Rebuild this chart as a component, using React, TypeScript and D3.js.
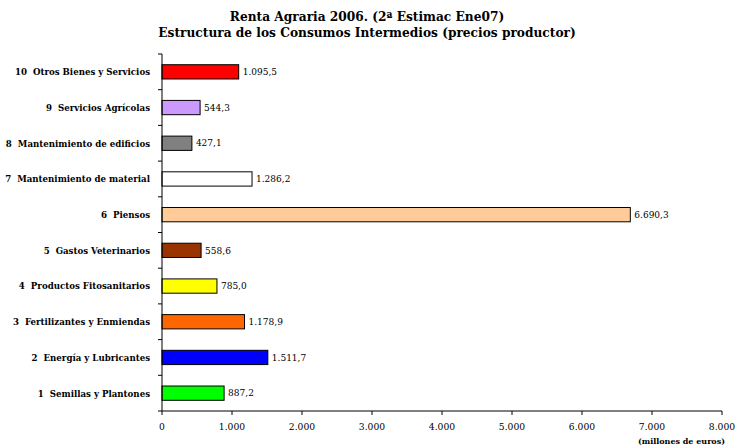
import React from "react";
import * as d3 from "d3";

const categories = [
  "10  Otros Bienes y Servicios",
  "9  Servicios Agrícolas",
  "8  Mantenimiento de edificios",
  "7  Mantenimiento de material",
  "6  Piensos",
  "5  Gastos Veterinarios",
  "4  Productos Fitosanitarios",
  "3  Fertilizantes y Enmiendas",
  "2  Energía y Lubricantes",
  "1  Semillas y Plantones",
];
const values = [1095.5, 544.3, 427.1, 1286.2, 6690.3, 558.6, 785.0, 1178.9, 1511.7, 887.2];
const colors = ["#FF0000", "#CC99FF", "#808080", "#FFFFFF", "#FFCC99", "#993300", "#FFFF00", "#FF6600", "#0000FF", "#00FF00"];
const xTicks = [0, 1000, 2000, 3000, 4000, 5000, 6000, 7000, 8000];
const titleLines = ["Renta Agraria 2006. (2ª Estimac Ene07)", "Estructura de los Consumos Intermedios (precios productor)"];
const unitLabel = "(millones de euros)";

const fmt = (v: number, dec: number) => {
  const s = v.toFixed(dec);
  const [i, d] = s.split(".");
  const ii = i.replace(/\B(?=(\d{3})+(?!\d))/g, ".");
  return d ? ii + "," + d : ii;
};

export default function App() {
  const W = 737, H = 448;
  const x = d3.scaleLinear().domain([0, 8000]).range([162, 722]);
  const y = d3.scaleBand<string>().domain(categories).range([54, 411]).paddingInner(0.6).paddingOuter(0.3);
  const band = (411 - 54) / categories.length;
  const serif = "'DejaVu Serif', serif";
  return (
    <svg width={W} height={H} style={{ position: "absolute", left: 0, top: 0, background: "#fff" }}>
      <rect width={W} height={H} fill="#fff" />
      {titleLines.map((t, i) => (
        <text key={i} x={367} y={21 + i * 16} textAnchor="middle" fontFamily={serif} fontWeight="bold" fontSize={12.2}>{t}</text>
      ))}
      {categories.map((c, i) => (
        <g key={c}>
          <rect x={x(0)} y={y(c)!} width={x(values[i]) - x(0)} height={y.bandwidth()} fill={colors[i]} stroke="#000" strokeWidth={1} />
          <text x={x(values[i]) + 4} y={y(c)! + y.bandwidth() / 2} dy="0.35em" fontFamily={serif} fontSize={9}>{fmt(values[i], 1)}</text>
          <text x={150} y={y(c)! + y.bandwidth() / 2} dy="0.35em" textAnchor="end" fontFamily={serif} fontWeight="bold" fontSize={9.6} style={{ fontStretch: "condensed", whiteSpace: "pre" }}>{c}</text>
        </g>
      ))}
      <line x1={162} x2={162} y1={54} y2={411} stroke="#000" />
      {d3.range(categories.length + 1).map((k) => (
        <line key={k} x1={158} x2={162} y1={54 + k * band} y2={54 + k * band} stroke="#000" />
      ))}
      <line x1={162} x2={722} y1={411} y2={411} stroke="#000" />
      {xTicks.map((t) => (
        <g key={t}>
          <line x1={x(t)} x2={x(t)} y1={411} y2={415} stroke="#000" />
          <text x={x(t)} y={427} dy="0.35em" textAnchor="middle" fontFamily={serif} fontSize={9.2}>{fmt(t, 0)}</text>
        </g>
      ))}
      <text x={725} y={441} dy="0.35em" textAnchor="end" fontFamily={serif} fontWeight="bold" fontSize={8}>{unitLabel}</text>
    </svg>
  );
}
